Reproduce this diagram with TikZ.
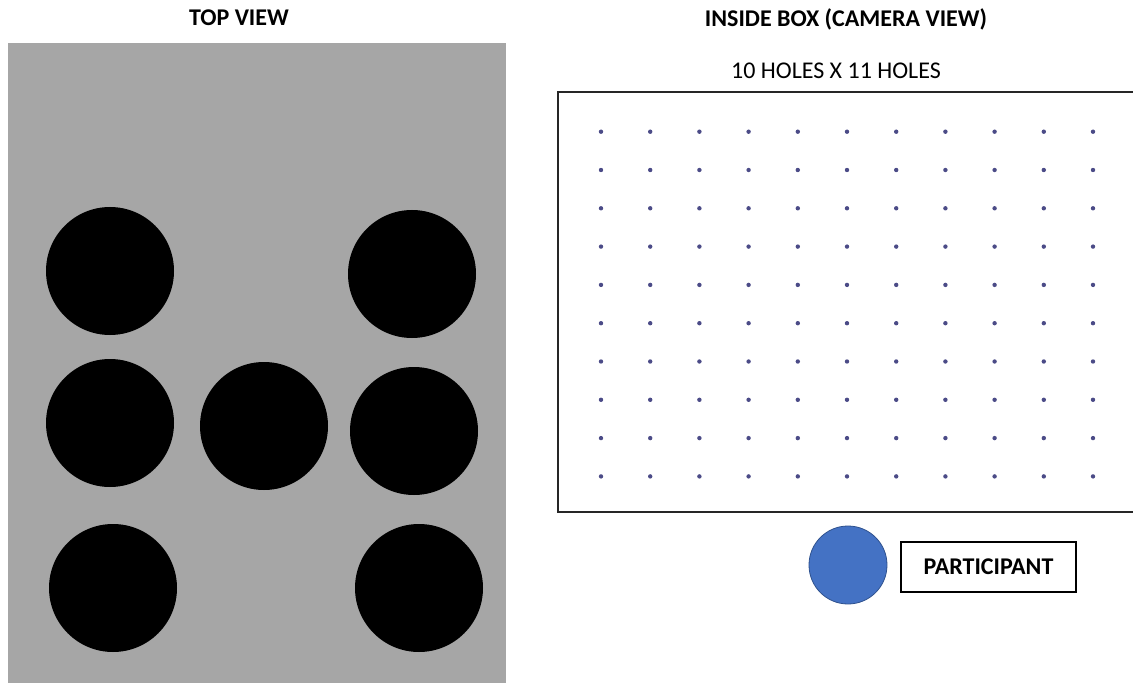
\documentclass[tikz,border=0pt]{standalone}
\usepackage{fontspec}
\setmainfont{Carlito}
\definecolor{boardgray}{HTML}{A6A6A6}
\definecolor{holeblue}{RGB}{75,75,135}
\definecolor{partblue}{HTML}{4472C4}
\definecolor{partedge}{HTML}{2F528F}
\tikzset{
  title/.style={font=\fontsize{24}{28}\selectfont\bfseries, inner sep=0pt, anchor=center},
  sub/.style={font=\fontsize{24}{28}\selectfont, inner sep=0pt, anchor=center},
  hole/.style={circle, fill=black, minimum size=128pt, inner sep=0pt},
  pin/.style={circle, fill=holeblue, minimum size=4.4pt, inner sep=0pt},
  labelbox/.style={draw=black, line width=1.5pt, minimum width=175pt, minimum height=50pt, inner sep=0pt, font=\fontsize{24}{28}\selectfont\bfseries},
}
\begin{document}
\begin{tikzpicture}[x=1pt,y=-1pt]
\useasboundingbox (0,0) rectangle (1133,687);
\fill[white] (0,0) rectangle (1133,687);
% titles
\node[title] (toptitle) at (239,18) {TOP VIEW};
\node[title] (camtitle) at (846,19) {INSIDE BOX (CAMERA VIEW)};
\node[sub] (holes) at (836,71) {10 HOLES X 11 HOLES};
% top view board
\fill[boardgray] (8,43) rectangle (506,683);
\node[hole] (h1) at (110,271) {};
\node[hole] (h2) at (412,274) {};
\node[hole] (h3) at (110,423) {};
\node[hole] (h4) at (264,426) {};
\node[hole] (h5) at (414,431) {};
\node[hole] (h6) at (113,588) {};
\node[hole] (h7) at (419,588) {};
% camera view box
\draw[line width=2pt, draw=black!85] (1140,92) -- (558,92) -- (558,512) -- (1140,512);
\foreach \i in {0,...,10}{
  \foreach \j in {0,...,9}{
    \node[pin] (p-\i-\j) at ({601+49.2*\i},{131.7+38.3*\j}) {};
  }
}
% participant
\node[circle, fill=partblue, draw=partedge, line width=0.8pt, minimum size=78pt, inner sep=0pt] (person) at (848,565) {};
\node[labelbox] (partlabel) at (988.5,567) {PARTICIPANT};
\end{tikzpicture}
\end{document}
